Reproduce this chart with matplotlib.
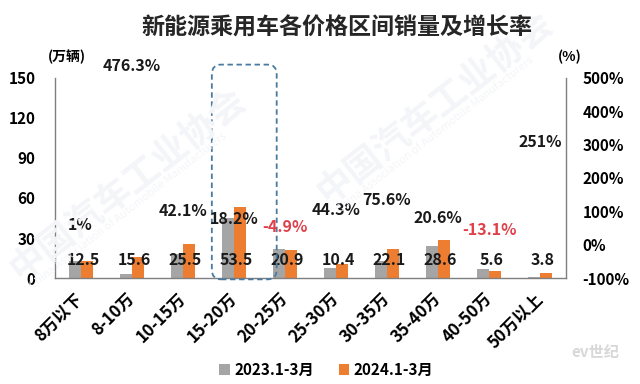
import numpy as np
import matplotlib.pyplot as plt
from matplotlib.patches import FancyBboxPatch

plt.rcParams['font.family'] = ['Noto Sans CJK SC', 'DejaVu Sans']
plt.rcParams['axes.unicode_minus'] = False

# 数据
categories = ['8万以下', '8-10万', '10-15万', '15-20万', '20-25万',
              '25-30万', '30-35万', '35-40万', '40-50万', '50万以上']
sales_2023 = [12.4, 2.7, 17.9, 45.3, 22.0, 7.2, 12.6, 23.7, 6.4, 1.1]
sales_2024 = [12.5, 15.6, 25.5, 53.5, 20.9, 10.4, 22.1, 28.6, 5.6, 3.8]
growth = [1, 476.3, 42.1, 18.2, -4.9, 44.3, 75.6, 20.6, -13.1, 251]
growth_text = ['1%', '476.3%', '42.1%', '18.2%', '-4.9%',
               '44.3%', '75.6%', '20.6%', '-13.1%', '251%']
legend_names = ['2023.1-3月', '2024.1-3月']

gray = '#A5A5A5'
orange = '#ED7D31'
red = '#E0404A'

fig = plt.figure(figsize=(6.4, 3.84), dpi=100)

# 水印（很淡）
wm = '#F4F5F8'
fig.text(0.2, 0.52, '中国汽车工业协会', rotation=38, ha='center', va='center',
         fontsize=26, fontweight='bold', color=wm, zorder=0)
fig.text(0.2, 0.45, 'China Association of Automobile Manufacturers', rotation=38,
         ha='center', va='center', fontsize=8, color=wm, zorder=0)
fig.text(0.68, 0.72, '中国汽车工业协会', rotation=38, ha='center', va='center',
         fontsize=26, fontweight='bold', color=wm, zorder=0)
fig.text(0.68, 0.65, 'China Association of Automobile Manufacturers', rotation=38,
         ha='center', va='center', fontsize=8, color=wm, zorder=0)

ax = fig.add_axes([0.086, 0.276, 0.798, 0.521])
ax.patch.set_alpha(0)
x = np.arange(len(categories))
w = 0.235

ax.bar(x - w / 2, sales_2023, w, color=gray, label=legend_names[0], zorder=2)
ax.bar(x + w / 2, sales_2024, w, color=orange, label=legend_names[1], zorder=2)

ax.set_xlim(-0.5, len(categories) - 0.5)
ax.set_ylim(0, 150)
ax.set_yticks(range(0, 151, 30))
ax.tick_params(axis='y', length=0, pad=14, labelsize=11)
ax.tick_params(axis='x', length=0, pad=13)
ax.set_xticks(x)
ax.set_xticklabels(categories, rotation=45, ha='right', va='center',
                   rotation_mode='anchor', fontsize=12, fontweight='bold')
for lab in ax.get_yticklabels():
    lab.set_fontweight('bold')
ax.spines['top'].set_visible(False)
for s in ['left', 'bottom', 'right']:
    ax.spines[s].set_color('#7F7F7F')
    ax.spines[s].set_linewidth(1)

# 销量标签（2024）
for xi, v in zip(x, sales_2024):
    ax.text(xi + 0.05, 13.5, f'{v}', ha='center', va='center',
            fontsize=11.5, fontweight='bold', color='#1A1A1A', zorder=4)

# 右轴：增长率
ax2 = ax.twinx()
ax2.set_ylim(-100, 500)
ax2.set_yticks(range(-100, 501, 100))
ax2.set_yticklabels([f'{t}%' for t in range(-100, 501, 100)])
ax2.tick_params(axis='y', length=0, pad=12, labelsize=11)
for lab in ax2.get_yticklabels():
    lab.set_fontweight('bold')
for s in ax2.spines.values():
    s.set_visible(False)
for xi, g, t in zip(x, growth, growth_text):
    ax2.annotate(t, (xi, g), xytext=(0, 14), textcoords='offset points',
                 ha='center', va='center', fontsize=11.5, fontweight='bold',
                 color=red if g < 0 else '#1A1A1A', zorder=5)

# 高亮 15-20万 的虚线圆角框
hi = categories.index('15-20万')
box = FancyBboxPatch((hi - 0.43, -1), 1.27, 161,
                     boxstyle='round,pad=0,rounding_size=0.18',
                     mutation_aspect=40, fill=False, linestyle=(0, (3, 2)),
                     edgecolor='#4A7AA0', linewidth=1.3, clip_on=False, zorder=6)
ax.add_patch(box)

# 单位
fig.text(0.105, 0.852, '(万辆)', ha='center', va='center', fontsize=10, fontweight='bold')
fig.text(0.891, 0.852, '(%)', ha='center', va='center', fontsize=10, fontweight='bold')

# 标题
fig.text(0.526, 0.927, '新能源乘用车各价格区间销量及增长率', ha='center', va='center',
         fontsize=16.6, fontweight='bold', color='#262626')

# 图例
fig.legend(loc='center', bbox_to_anchor=(0.51, 0.036), ncol=2, frameon=False,
           handlelength=0.7, handleheight=0.7, handletextpad=0.3, columnspacing=1.6,
           prop={'weight': 'bold', 'size': 11, 'family': ['Noto Sans CJK SC', 'DejaVu Sans']})

# 水印
fig.text(0.93, 0.083, 'ev世纪', ha='center', va='center', fontsize=11,
         fontstyle='italic', fontweight='bold', color='#D8D8D8')

fig.savefig('out.png', dpi=100)
